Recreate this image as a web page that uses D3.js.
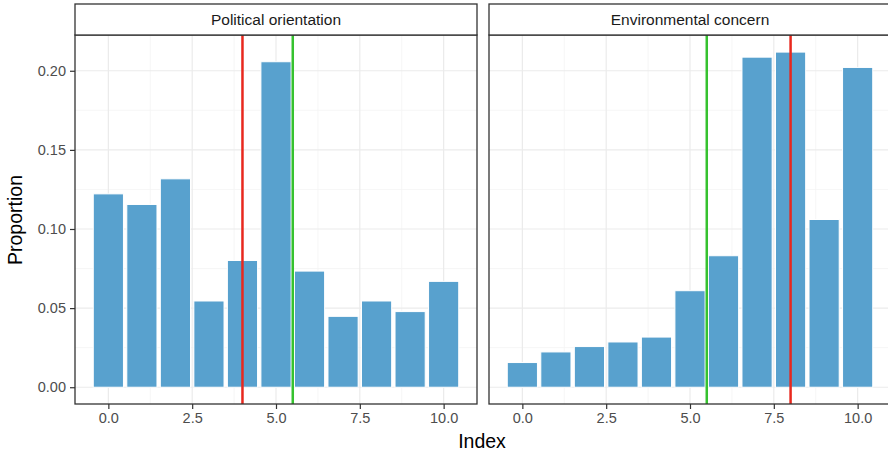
<!DOCTYPE html>
<html>
<head>
<meta charset="utf-8">
<script src="https://cdn.jsdelivr.net/npm/d3@7"></script>
<style>
  body { margin: 0; background: #fff; overflow: hidden; }
  text { font-family: "Liberation Sans", Arial, sans-serif; }
</style>
</head>
<body>
<div id="chart"></div>
<script>
// data
var indexValues = [0, 1, 2, 3, 4, 5, 6, 7, 8, 9, 10];
var panelNames = ["Political orientation", "Environmental concern"];
var politicalProp = [0.1222, 0.1155, 0.1317, 0.0545, 0.0801, 0.2057, 0.0734, 0.0448, 0.0545, 0.0478, 0.0669];
var environmentProp = [0.0156, 0.0223, 0.0257, 0.0286, 0.0317, 0.0610, 0.0831, 0.2086, 0.2118, 0.1060, 0.2021];
var redLines = [4.0, 8.0];
var greenLines = [5.5, 5.5];
var xTicks = [0, 2.5, 5, 7.5, 10];
var yTicks = [0, 0.05, 0.10, 0.15, 0.20];

var W = 888, H = 455;
var svg = d3.select("#chart").append("svg").attr("width", W).attr("height", H);

var panelTop = 35, panelBottom = 404, stripTop = 4;
var panelLefts = [75, 489], panelW = 402;

var ys = d3.scaleLinear().domain([-0.0106, 0.2226]).range([panelBottom, panelTop]);

var allProps = [politicalProp, environmentProp];

panelNames.forEach(function (name, p) {
  var x0 = panelLefts[p];
  var xs = d3.scaleLinear().domain([-0.995, 10.995]).range([x0, x0 + panelW]);
  var g = svg.append("g");

  // minor grid
  var minorX = [1.25, 3.75, 6.25, 8.75];
  var minorY = [0.025, 0.075, 0.125, 0.175];
  g.selectAll(".mx").data(minorX).enter().append("line")
    .attr("x1", d => xs(d)).attr("x2", d => xs(d))
    .attr("y1", panelTop).attr("y2", panelBottom)
    .attr("stroke", "#f4f4f4").attr("stroke-width", 0.8);
  g.selectAll(".my").data(minorY).enter().append("line")
    .attr("y1", d => ys(d)).attr("y2", d => ys(d))
    .attr("x1", x0).attr("x2", x0 + panelW)
    .attr("stroke", "#f4f4f4").attr("stroke-width", 0.8);
  // major grid
  g.selectAll(".gx").data(xTicks).enter().append("line")
    .attr("x1", d => xs(d)).attr("x2", d => xs(d))
    .attr("y1", panelTop).attr("y2", panelBottom)
    .attr("stroke", "#ebebeb").attr("stroke-width", 1.2);
  g.selectAll(".gy").data(yTicks).enter().append("line")
    .attr("y1", d => ys(d)).attr("y2", d => ys(d))
    .attr("x1", x0).attr("x2", x0 + panelW)
    .attr("stroke", "#ebebeb").attr("stroke-width", 1.2);

  // bars
  g.selectAll("rect.bar").data(allProps[p]).enter().append("rect")
    .attr("class", "bar")
    .attr("x", (d, i) => xs(indexValues[i] - 0.45))
    .attr("width", xs(0.45) - xs(-0.45))
    .attr("y", d => ys(d))
    .attr("height", d => ys(0) - ys(d))
    .attr("fill", "#58a1ce")
    .attr("stroke", "#ffffff").attr("stroke-width", 1);

  // vertical lines
  g.append("line")
    .attr("x1", xs(greenLines[p])).attr("x2", xs(greenLines[p]))
    .attr("y1", panelTop).attr("y2", panelBottom)
    .attr("stroke", "#36c22f").attr("stroke-width", 2.5);
  g.append("line")
    .attr("x1", xs(redLines[p])).attr("x2", xs(redLines[p]))
    .attr("y1", panelTop).attr("y2", panelBottom)
    .attr("stroke", "#e8281e").attr("stroke-width", 2.5);

  // panel border
  g.append("rect").attr("x", x0).attr("y", panelTop)
    .attr("width", panelW).attr("height", panelBottom - panelTop)
    .attr("fill", "none").attr("stroke", "#333").attr("stroke-width", 1.3);

  // strip
  g.append("rect").attr("x", x0).attr("y", stripTop)
    .attr("width", panelW).attr("height", panelTop - stripTop)
    .attr("fill", "#ffffff").attr("stroke", "#333").attr("stroke-width", 1.3);
  g.append("text").attr("x", x0 + panelW / 2).attr("y", (stripTop + panelTop) / 2 + 5)
    .attr("text-anchor", "middle").attr("font-size", 15.5).attr("fill", "#1a1a1a")
    .text(name);

  // x axis
  var xAxis = g.append("g").attr("transform", "translate(0," + panelBottom + ")")
    .call(d3.axisBottom(xs).tickValues(xTicks).tickFormat(d3.format(".1f")).tickSizeOuter(0).tickSize(5).tickPadding(4));
  xAxis.select(".domain").remove();
  xAxis.selectAll("line").attr("stroke", "#333").attr("stroke-width", 1.2);
  xAxis.selectAll("text").attr("fill", "#4d4d4d").attr("font-size", 14.5)
    .style("font-family", "Liberation Sans, Arial, sans-serif");

  if (p === 0) {
    var yAxis = g.append("g").attr("transform", "translate(" + x0 + ",0)")
      .call(d3.axisLeft(ys).tickValues(yTicks).tickFormat(d3.format(".2f")).tickSizeOuter(0).tickSize(5).tickPadding(4));
    yAxis.select(".domain").remove();
    yAxis.selectAll("line").attr("stroke", "#333").attr("stroke-width", 1.2);
    yAxis.selectAll("text").attr("fill", "#4d4d4d").attr("font-size", 14.5)
      .style("font-family", "Liberation Sans, Arial, sans-serif");
  }
});

// axis titles
svg.append("text").attr("x", 482).attr("y", 448).attr("text-anchor", "middle")
  .attr("font-size", 19.5).attr("fill", "#000").text("Index");
svg.append("text").attr("transform", "translate(22,220) rotate(-90)")
  .attr("text-anchor", "middle").attr("font-size", 19.5).attr("fill", "#000").text("Proportion");
</script>
</body>
</html>
